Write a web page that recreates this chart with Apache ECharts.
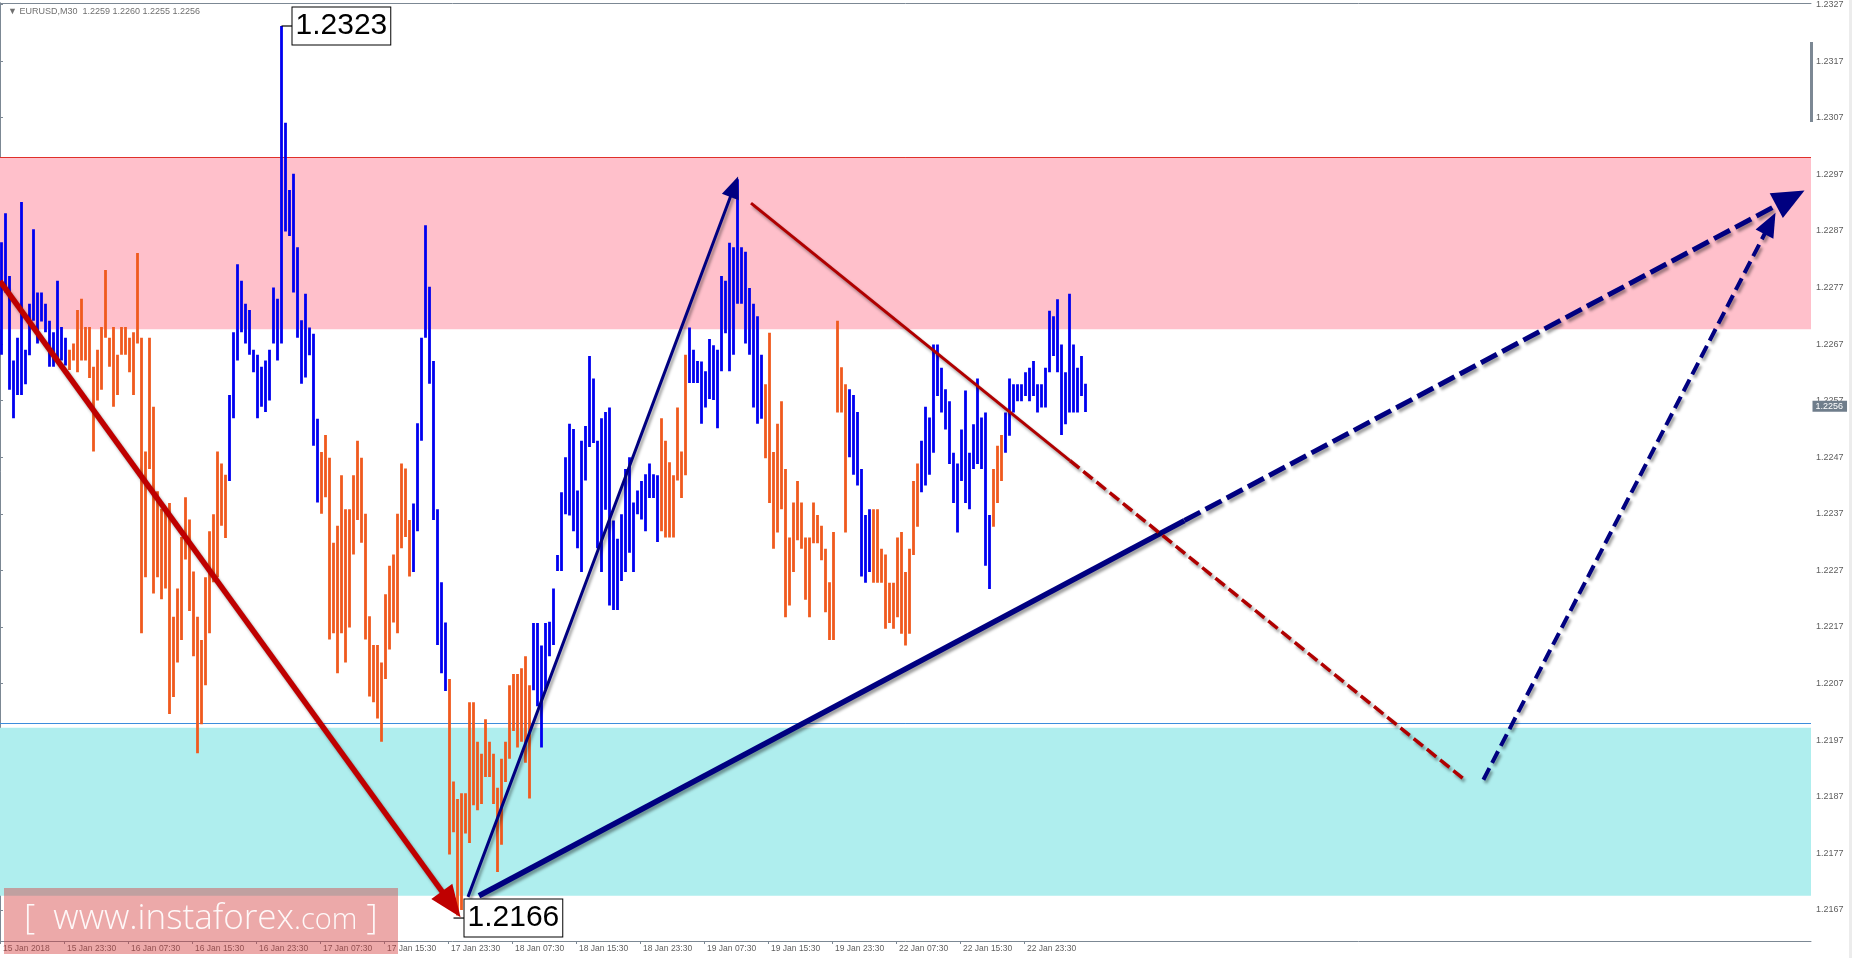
<!DOCTYPE html>
<html>
<head>
<meta charset="utf-8">
<title>EURUSD M30</title>
<script src="https://cdn.jsdelivr.net/npm/echarts@6.0.0/dist/echarts.min.js"></script>
<style>
html,body{margin:0;padding:0;background:#ffffff;overflow:hidden;}
#chart{width:1852px;height:958px;}
</style>
</head>
<body>
<div id="chart"></div>
<script>
// ---------------- data ----------------
const barHigh = [
  1.22850,1.22901,1.22790,1.22641,1.22681,1.22921,1.22660,1.22741,1.22873,1.22761,
  1.22761,1.22741,1.22711,1.22691,1.22782,1.22700,1.22681,1.22660,1.22671,1.22730,
  1.22750,1.22700,1.22700,1.22630,1.22660,1.22700,1.22801,1.22681,1.22700,1.22651,
  1.22700,1.22700,1.22681,1.22691,1.22831,1.22681,1.22480,1.22681,1.22559,1.22410,
  1.22379,1.22379,1.22389,1.22188,1.22238,1.22329,1.22399,1.22360,1.22268,1.22188,
  1.22147,1.22258,1.22339,1.22369,1.22480,1.22459,1.22439,1.22580,1.22691,1.22811,
  1.22782,1.22741,1.22730,1.22660,1.22651,1.22630,1.22641,1.22660,1.22770,1.22750,
  1.23232,1.23061,1.22942,1.22971,1.22841,1.22712,1.22759,1.22699,1.22688,1.22538,
  1.22479,1.22509,1.22469,1.22319,1.22349,1.22438,1.22378,1.22378,1.22438,1.22499,
  1.22469,1.22370,1.22189,1.22138,1.22138,1.22107,1.22228,1.22278,1.22298,1.22370,
  1.22459,1.22450,1.22359,1.22388,1.22530,1.22681,1.22880,1.22771,1.22640,1.22378,
  1.22249,1.22178,1.22078,1.21897,1.21866,1.21876,1.21876,1.22037,1.22037,1.21967,
  1.21946,1.22007,1.21967,1.21946,1.21886,1.21937,1.21967,1.22067,1.22087,1.22087,
  1.22097,1.22118,1.22067,1.22177,1.22177,1.22137,1.22177,1.22179,1.22238,1.22297,
  1.22408,1.22470,1.22529,1.22520,1.22411,1.22499,1.22525,1.22649,1.22609,1.22499,
  1.22539,1.22550,1.22558,1.22358,1.22326,1.22369,1.22449,1.22470,1.22390,1.22411,
  1.22428,1.22440,1.22459,1.22440,1.22438,1.22539,1.22499,1.22461,1.22438,1.22558,
  1.22480,1.22651,1.22699,1.22660,1.22640,1.22639,1.22622,1.22679,1.22668,1.22660,
  1.22790,1.22782,1.22849,1.22841,1.22961,1.22841,1.22833,1.22769,1.22741,1.22719,
  1.22651,1.22599,1.22690,1.22479,1.22529,1.22569,1.22449,1.22328,1.22390,1.22428,
  1.22390,1.22328,1.22328,1.22390,1.22368,1.22349,1.22308,1.22249,1.22338,1.22711,
  1.22629,1.22599,1.22590,1.22580,1.22550,1.22449,1.22368,1.22378,1.22378,1.22378,
  1.22308,1.22298,1.22248,1.22248,1.22328,1.22338,1.22267,1.22308,1.22428,1.22459,
  1.22499,1.22559,1.22540,1.22669,1.22669,1.22628,1.22590,1.22569,1.22478,1.22459,
  1.22519,1.22588,1.22478,1.22528,1.22609,1.22540,1.22549,1.22368,1.22449,1.22490,
  1.22509,1.22549,1.22609,1.22599,1.22599,1.22599,1.22620,1.22628,1.22640,1.22599,
  1.22599,1.22628,1.22729,1.22719,1.22749,1.22669,1.22620,1.22759,1.22669,1.22628,
  1.22649,1.22600
];
const barLow = [
  1.22651,1.22761,1.22589,1.22539,1.22580,1.22580,1.22599,1.22650,1.22711,1.22671,
  1.22710,1.22691,1.22630,1.22630,1.22641,1.22641,1.22632,1.22624,1.22641,1.22620,
  1.22641,1.22641,1.22610,1.22480,1.22570,1.22589,1.22681,1.22630,1.22559,1.22580,
  1.22651,1.22651,1.22620,1.22580,1.22671,1.22159,1.22258,1.22449,1.22229,1.22258,
  1.22219,1.22238,1.22016,1.22046,1.22107,1.22147,1.22289,1.22198,1.22118,1.21947,
  1.21998,1.22067,1.22159,1.22249,1.22258,1.22349,1.22327,1.22428,1.22539,1.22641,
  1.22691,1.22671,1.22651,1.22620,1.22539,1.22559,1.22550,1.22570,1.22671,1.22641,
  1.22671,1.22869,1.22861,1.22761,1.22681,1.22600,1.22611,1.22650,1.22490,1.22390,
  1.22370,1.22399,1.22148,1.22159,1.22088,1.22159,1.22107,1.22169,1.22298,1.22359,
  1.22319,1.22148,1.22047,1.22037,1.22008,1.21967,1.22078,1.22130,1.22178,1.22159,
  1.22309,1.22329,1.22259,1.22267,1.22339,1.22499,1.22681,1.22600,1.22359,1.22138,
  1.22088,1.22057,1.21768,1.21807,1.21660,1.21670,1.21805,1.21788,1.21855,1.21846,
  1.21857,1.21905,1.21905,1.21857,1.21737,1.21785,1.21896,1.21937,1.21986,1.21957,
  1.21967,1.21930,1.21867,1.22058,1.22030,1.21957,1.22060,1.22118,1.22138,1.22269,
  1.22269,1.22369,1.22367,1.22339,1.22309,1.22267,1.22429,1.22488,1.22495,1.22309,
  1.22267,1.22377,1.22208,1.22200,1.22200,1.22251,1.22267,1.22301,1.22267,1.22369,
  1.22360,1.22339,1.22398,1.22398,1.22320,1.22339,1.22328,1.22328,1.22328,1.22429,
  1.22398,1.22438,1.22601,1.22601,1.22601,1.22529,1.22558,1.22573,1.22571,1.22521,
  1.22622,1.22689,1.22622,1.22651,1.22741,1.22741,1.22671,1.22651,1.22558,1.22529,
  1.22538,1.22468,1.22389,1.22308,1.22337,1.22378,1.22187,1.22208,1.22267,1.22323,
  1.22308,1.22218,1.22187,1.22318,1.22318,1.22288,1.22196,1.22147,1.22147,1.22549,
  1.22549,1.22337,1.22470,1.22439,1.22420,1.22259,1.22248,1.22267,1.22248,1.22248,
  1.22248,1.22167,1.22177,1.22167,1.22187,1.22158,1.22137,1.22158,1.22297,1.22347,
  1.22408,1.22420,1.22439,1.22478,1.22578,1.22549,1.22519,1.22458,1.22389,1.22337,
  1.22428,1.22389,1.22378,1.22449,1.22458,1.22449,1.22278,1.22237,1.22347,1.22389,
  1.22428,1.22478,1.22508,1.22549,1.22569,1.22569,1.22578,1.22569,1.22578,1.22549,
  1.22558,1.22558,1.22620,1.22649,1.22620,1.22509,1.22528,1.22549,1.22549,1.22549,
  1.22578,1.22550
];
// 1 = blue (rising wave) bar, 0 = orange (falling wave) bar
const barUp = [
  1,1,1,1,1,1,1,1,1,1, 1,1,1,1,1,1,1,0,0,0, 0,0,0,0,0,0,0,0,0,0, 0,0,0,0,0,0,0,0,0,0,
  0,0,0,0,0,0,0,0,0,0, 0,0,0,0,0,0,0,1,1,1, 1,1,1,1,1,1,1,1,1,1, 1,1,1,1,1,1,1,1,1,1,
  0,0,0,0,0,0,0,0,0,0, 0,0,0,0,0,0,0,0,0,0, 0,0,0,1,1,1,1,1,1,1, 1,1,0,0,0,0,0,0,0,0,
  0,0,0,0,0,0,0,0,0,0, 0,0,0,1,1,1,1,1,1,1, 1,1,1,1,1,1,1,1,1,1, 1,1,1,1,1,1,1,1,1,1,
  1,1,1,1,1,0,0,0,0,0, 0,0,1,1,1,1,1,1,1,1, 1,1,1,1,1,1,1,1,1,1, 1,0,0,0,0,0,0,0,0,0,
  0,0,0,0,0,0,0,0,0,0, 0,0,1,1,1,1,1,1,0,0, 0,0,0,0,0,0,0,0,0,0, 1,1,1,1,1,1,1,1,1,1,
  1,1,1,1,1,1,1,1,0,0, 0,1,1,1,1,1,1,1,1,1, 1,1,1,1,1,1,1,1,1,1, 1,1
];
const timeLabels = ['15 Jan 2018','15 Jan 23:30','16 Jan 07:30','16 Jan 15:30','16 Jan 23:30',
  '17 Jan 07:30','17 Jan 15:30','17 Jan 23:30','18 Jan 07:30','18 Jan 15:30','18 Jan 23:30',
  '19 Jan 07:30','19 Jan 15:30','19 Jan 23:30','22 Jan 07:30','22 Jan 15:30','22 Jan 23:30'];
const timeLabelBars = [0,16,32,48,64,80,96,112,128,144,160,176,192,208,224,240,256];
const priceTicks = [1.2167,1.2177,1.2187,1.2197,1.2207,1.2217,1.2227,1.2237,1.2247,
  1.2257,1.2267,1.2277,1.2287,1.2297,1.2307,1.2317,1.2327];
const resistanceZone = [1.22696, 1.22999];
const supportZone = [1.21695, 1.21992];
const lastQuote = [1.2259, 1.2260, 1.2255, 1.2256]; // open high low close of last bar
// wave lines, in [bar position, price]
const waveDown = [[0, 1.22781], [112.8, 1.21680]];
const waveUp = [[117, 1.21693], [183.55, 1.22948]];
const trendSolid = [[119.75, 1.21695], [296.1, 1.22358]];
const trendForecast = [[296.1, 1.22358], [447.6, 1.22928]];
const correctionSolid = [[187.75, 1.22919], [267.5, 1.22464]];
const correctionForecast = [[267.5, 1.22464], [366.15, 1.21900]];
const reboundForecast = [[370.85, 1.21900], [442.5, 1.22883]];

// ---------------- chart ----------------
const AXIS = '#7c8894';
const FONT = 'Liberation Sans';
const BLUE = '#0000f0';
const ORANGE = '#f05a1e';
const X_MAX = 452.75;
const chart = echarts.init(document.getElementById('chart'), null, {renderer: 'canvas'});

const barData = barHigh.map((h, i) => [i + 0.375, h, barLow[i], barUp[i]]);
let hiIdx = 0, loIdx = 0;
barHigh.forEach((v, i) => { if (v > barHigh[hiIdx]) hiIdx = i; });
barLow.forEach((v, i) => { if (v < barLow[loIdx]) loIdx = i; });

function waveLine(pts, color, width, dash, head) {
  return {
    type: 'line', data: [], silent: true, xAxisIndex: 0, yAxisIndex: 0,
    markLine: {
      silent: true, animation: false,
      symbol: head ? ['none', 'triangle'] : ['none', 'none'],
      symbolSize: head ? head : 1,
      label: {show: false},
      emphasis: {disabled: true},
      lineStyle: {color: color, width: width, type: dash || 'solid', opacity: 1,
        shadowColor: 'rgba(0,0,0,0.38)', shadowBlur: 3, shadowOffsetX: 2, shadowOffsetY: 3},
      data: [[{coord: pts[0]}, {coord: pts[1]}]]
    }
  };
}

const option = {
  animation: false,
  backgroundColor: '#ffffff',
  title: {
    text: '▼ EURUSD,M30  ' + lastQuote.map(v => v.toFixed(4)).join(' '),
    left: 3, top: 2,
    textStyle: {fontSize: 9, color: '#707070', fontWeight: 'normal', fontFamily: FONT}
  },
  grid: {left: 0, right: 41, top: 1, bottom: 17, containLabel: false},
  xAxis: [{
    type: 'value', min: 0, max: X_MAX, position: 'bottom',
    splitLine: {show: false},
    axisLine: {show: true, lineStyle: {color: AXIS, width: 1}},
    axisTick: {show: true, customValues: timeLabelBars, length: 3, lineStyle: {color: AXIS}},
    axisLabel: {customValues: timeLabelBars, align: 'left', margin: 3, padding: [0, 0, 0, 3],
      fontSize: 8.5, color: '#5f5f5f', fontFamily: FONT,
      formatter: v => timeLabels[timeLabelBars.indexOf(Math.round(v))] || ''}
  }, {
    type: 'value', min: 0, max: X_MAX, position: 'top',
    splitLine: {show: false}, axisTick: {show: false}, axisLabel: {show: false},
    axisLine: {show: true, lineStyle: {color: AXIS, width: 1}}
  }],
  yAxis: {
    type: 'value', position: 'right', min: 1.21615, max: 1.23273, scale: true,
    splitLine: {show: false},
    axisLine: {show: true, lineStyle: {color: AXIS, width: 1}},
    axisTick: {show: true, customValues: priceTicks, length: 3, lineStyle: {color: AXIS}},
    axisLabel: {customValues: priceTicks, margin: 5, fontSize: 9, color: '#5f5f5f', fontFamily: FONT,
      formatter: v => v.toFixed(4)}
  },
  series: [
    { // resistance zone
      type: 'line', data: [], silent: true, z: 1,
      markArea: {silent: true, itemStyle: {color: '#ffc0cb', opacity: 1},
        data: [[{yAxis: resistanceZone[1]}, {yAxis: resistanceZone[0]}]]},
      markLine: {silent: true, symbol: ['none', 'none'], label: {show: false}, z: 1,
        lineStyle: {color: '#e0302a', width: 1, type: 'solid'},
        data: [{yAxis: resistanceZone[0]}, {yAxis: resistanceZone[1]}]}
    },
    { // support zone
      type: 'line', data: [], silent: true, z: 1,
      markArea: {silent: true, itemStyle: {color: '#afeeee', opacity: 1},
        data: [[{yAxis: supportZone[1]}, {yAxis: supportZone[0]}]]},
      markLine: {silent: true, symbol: ['none', 'none'], label: {show: false}, z: 1,
        lineStyle: {color: '#3d8ddc', width: 1, type: 'solid'},
        data: [{yAxis: supportZone[0]}, {yAxis: supportZone[1]}]}
    },
    { // price bars
      type: 'custom', data: barData, z: 3, silent: true, clip: true,
      encode: {x: 0, y: [1, 2]},
      renderItem: function (params, api) {
        const top = api.coord([api.value(0), api.value(1)]);
        const bot = api.coord([api.value(0), api.value(2)]);
        return {
          type: 'rect',
          shape: {x: top[0] - 1.4, y: top[1], width: 2.8, height: Math.max(1, bot[1] - top[1])},
          style: {fill: api.value(3) ? BLUE : ORANGE}
        };
      },
      markPoint: {
        silent: true, animation: false,
        symbol: 'rect', symbolSize: [11, 1.2], symbolOffset: [5.5, 0],
        itemStyle: {color: '#000'},
        label: {show: true, position: 'right', distance: 0, formatter: '{c}',
          color: '#000', fontSize: 30, fontFamily: FONT, lineHeight: 33,
          backgroundColor: '#fff', borderColor: '#000', borderWidth: 1, padding: [3, 3, 1, 3]},
        data: [
          {coord: barData[hiIdx].slice(0, 2), value: barHigh[hiIdx].toFixed(4)},
          {coord: [barData[loIdx][0], barLow[loIdx]], value: barLow[loIdx].toFixed(4),
            symbolOffset: [1.5, 2.5]},
          {coord: [X_MAX, lastQuote[3]], value: lastQuote[3].toFixed(4),
            symbol: 'rect', symbolSize: [1, 1], symbolOffset: [0, 0],
            itemStyle: {color: 'rgba(0,0,0,0)'},
            label: {show: true, position: 'right', distance: 1, color: '#ffffff',
              backgroundColor: '#6f7d8b', borderWidth: 0, fontSize: 9, lineHeight: 10,
              fontFamily: FONT, padding: [1, 4, 0, 3]}}
        ]
      }
    },
    waveLine(waveDown, '#bf0000', 5.5, null, [26, 32]),
    waveLine(waveUp, '#000080', 3, null, [18, 22]),
    waveLine(trendSolid, '#000080', 5.5, null, null),
    waveLine(trendForecast, '#000080', 5, [18, 6], [28, 32]),
    waveLine(correctionSolid, '#b00000', 3, null, null),
    waveLine(correctionForecast, '#b00000', 3.5, [12, 5], null),
    waveLine(reboundForecast, '#000080', 4, [13, 6], [20, 24])
  ],
  graphic: [
    {type: 'rect', left: 1810, top: 42, shape: {width: 3, height: 80}, style: {fill: '#7c8894'}, z: 50},
    {type: 'rect', left: 1849, top: 0, shape: {width: 3, height: 958}, style: {fill: '#ececec'}, z: 50},
    {type: 'rect', left: 4, top: 888, shape: {width: 394, height: 66},
      style: {fill: 'rgba(212,64,64,0.45)'}, z: 100},
    {type: 'text', left: 24, top: 902, z: 101,
      style: {text: '{a|[  www.instaforex}{b|.com}{a| ]}', fill: 'rgba(255,255,255,0.92)',
        rich: {
          a: {fontSize: 35, fontWeight: 300, fontFamily: 'Open Sans', fill: 'rgba(255,255,255,0.92)', verticalAlign: 'bottom', lineHeight: 48},
          b: {fontSize: 29, fontWeight: 300, fontFamily: 'Open Sans', fill: 'rgba(255,255,255,0.92)', verticalAlign: 'bottom', lineHeight: 48, padding: [0, 0, 2, 0]}
        }}}
  ]
};
chart.setOption(option);
</script>
</body>
</html>
